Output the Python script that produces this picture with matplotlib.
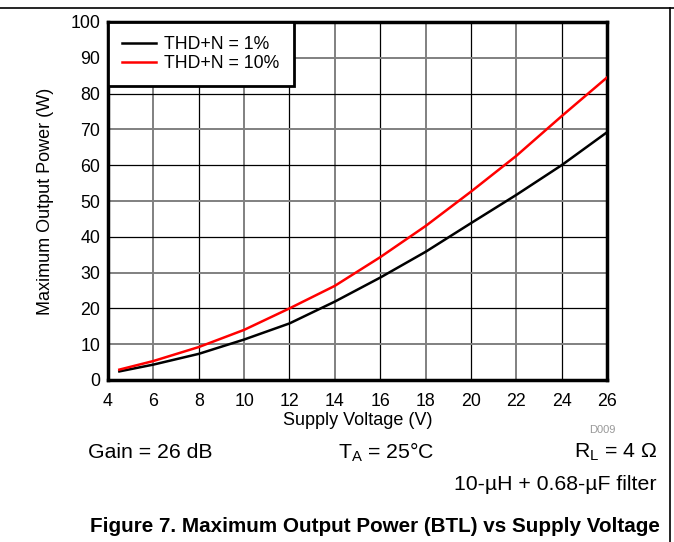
import matplotlib
matplotlib.use("Agg")
import matplotlib.pyplot as plt
from matplotlib.lines import Line2D

plt.rcParams['font.family'] = ['Liberation Sans', 'DejaVu Sans']
plt.rcParams['mathtext.fontset'] = 'custom'
plt.rcParams['mathtext.rm'] = 'Liberation Sans'
plt.rcParams['mathtext.it'] = 'Liberation Sans:italic'
plt.rcParams['mathtext.bf'] = 'Liberation Sans:bold'

# Data
supply_v = [4.5, 6, 8, 10, 12, 14, 16, 18, 20, 22, 24, 26]
thd_1 = [2.4, 4.3, 7.3, 11.3, 15.8, 21.9, 28.6, 35.8, 43.8, 51.7, 60.0, 69.2]
thd_10 = [2.9, 5.3, 9.2, 14.0, 20.0, 26.3, 34.3, 43.0, 52.6, 62.6, 73.7, 84.5]
x_ticks = [4, 6, 8, 10, 12, 14, 16, 18, 20, 22, 24, 26]
y_ticks = [0, 10, 20, 30, 40, 50, 60, 70, 80, 90, 100]
series_labels = ['THD+N = 1%', 'THD+N = 10%']

fig = plt.figure(figsize=(6.74, 5.42), dpi=100)
ax = fig.add_axes([108/674, 1-380/542, (607-108)/674, (380-22)/542])

# grid (alternating black / gray)
for xv in x_ticks[1:-1]:
    c = 'black' if (xv % 4 == 0) else '#808080'
    ax.axvline(xv, color=c, lw=0.9 if c == 'black' else 1.4, zorder=1)
for yv in y_ticks[1:-1]:
    c = 'black' if (yv % 20 == 0) else '#808080'
    ax.axhline(yv, color=c, lw=0.9 if c == 'black' else 1.4, zorder=1)

ax.plot(supply_v, thd_1, color='black', lw=1.8, label=series_labels[0], zorder=3)
ax.plot(supply_v, thd_10, color='#ff0000', lw=1.8, label=series_labels[1], zorder=3)

ax.set_xlim(4, 26)
ax.set_ylim(0, 100)
ax.set_xticks(x_ticks)
ax.set_yticks(y_ticks)
ax.tick_params(length=0, labelsize=12.8)
ax.tick_params(axis='x', pad=9.5)
ax.tick_params(axis='y', pad=5.5)
for s in ax.spines.values():
    s.set_linewidth(2.5)
    s.set_color('black')
ax.set_xlabel('Supply Voltage (V)', fontsize=13, labelpad=1)
ax.set_ylabel('Maximum Output Power (W)', fontsize=13, labelpad=12)

leg = ax.legend(loc='upper left', bbox_to_anchor=(0, 1), fontsize=12.7, frameon=True,
                fancybox=False, edgecolor='black', framealpha=1, borderaxespad=0,
                handlelength=1.9, handletextpad=0.5, borderpad=0.8, labelspacing=0.12)
leg.get_frame().set_linewidth(2)
leg.set_zorder(5)

# page frame lines
fig.add_artist(Line2D([0, 1], [1-8/542, 1-8/542], color='black', lw=1.2, transform=fig.transFigure))
fig.add_artist(Line2D([670/674, 670/674], [0, 1-8/542], color='black', lw=1.2, transform=fig.transFigure))

fig.text(615/674, 1-430/542, 'D009', fontsize=8, color='#999999', ha='right', va='center')
fig.text(88/674, 1-452/542, 'Gain = 26 dB', fontsize=15.3, ha='left', va='center')
fig.text(338/674, 1-452/542, r'T$_\mathregular{A}$ = 25°C', fontsize=15.3, ha='left', va='center')
fig.text(657/674, 1-452/542, r'R$_\mathregular{L}$ = 4 Ω', fontsize=15.3, ha='right', va='center')
fig.text(657/674, 1-484/542, '10-µH + 0.68-µF filter', fontsize=15.3, ha='right', va='center')
fig.text(375/674, 1-527/542, 'Figure 7. Maximum Output Power (BTL) vs Supply Voltage',
         fontsize=14.9, fontweight='bold', ha='center', va='center')

fig.savefig('out.png', dpi=100)
